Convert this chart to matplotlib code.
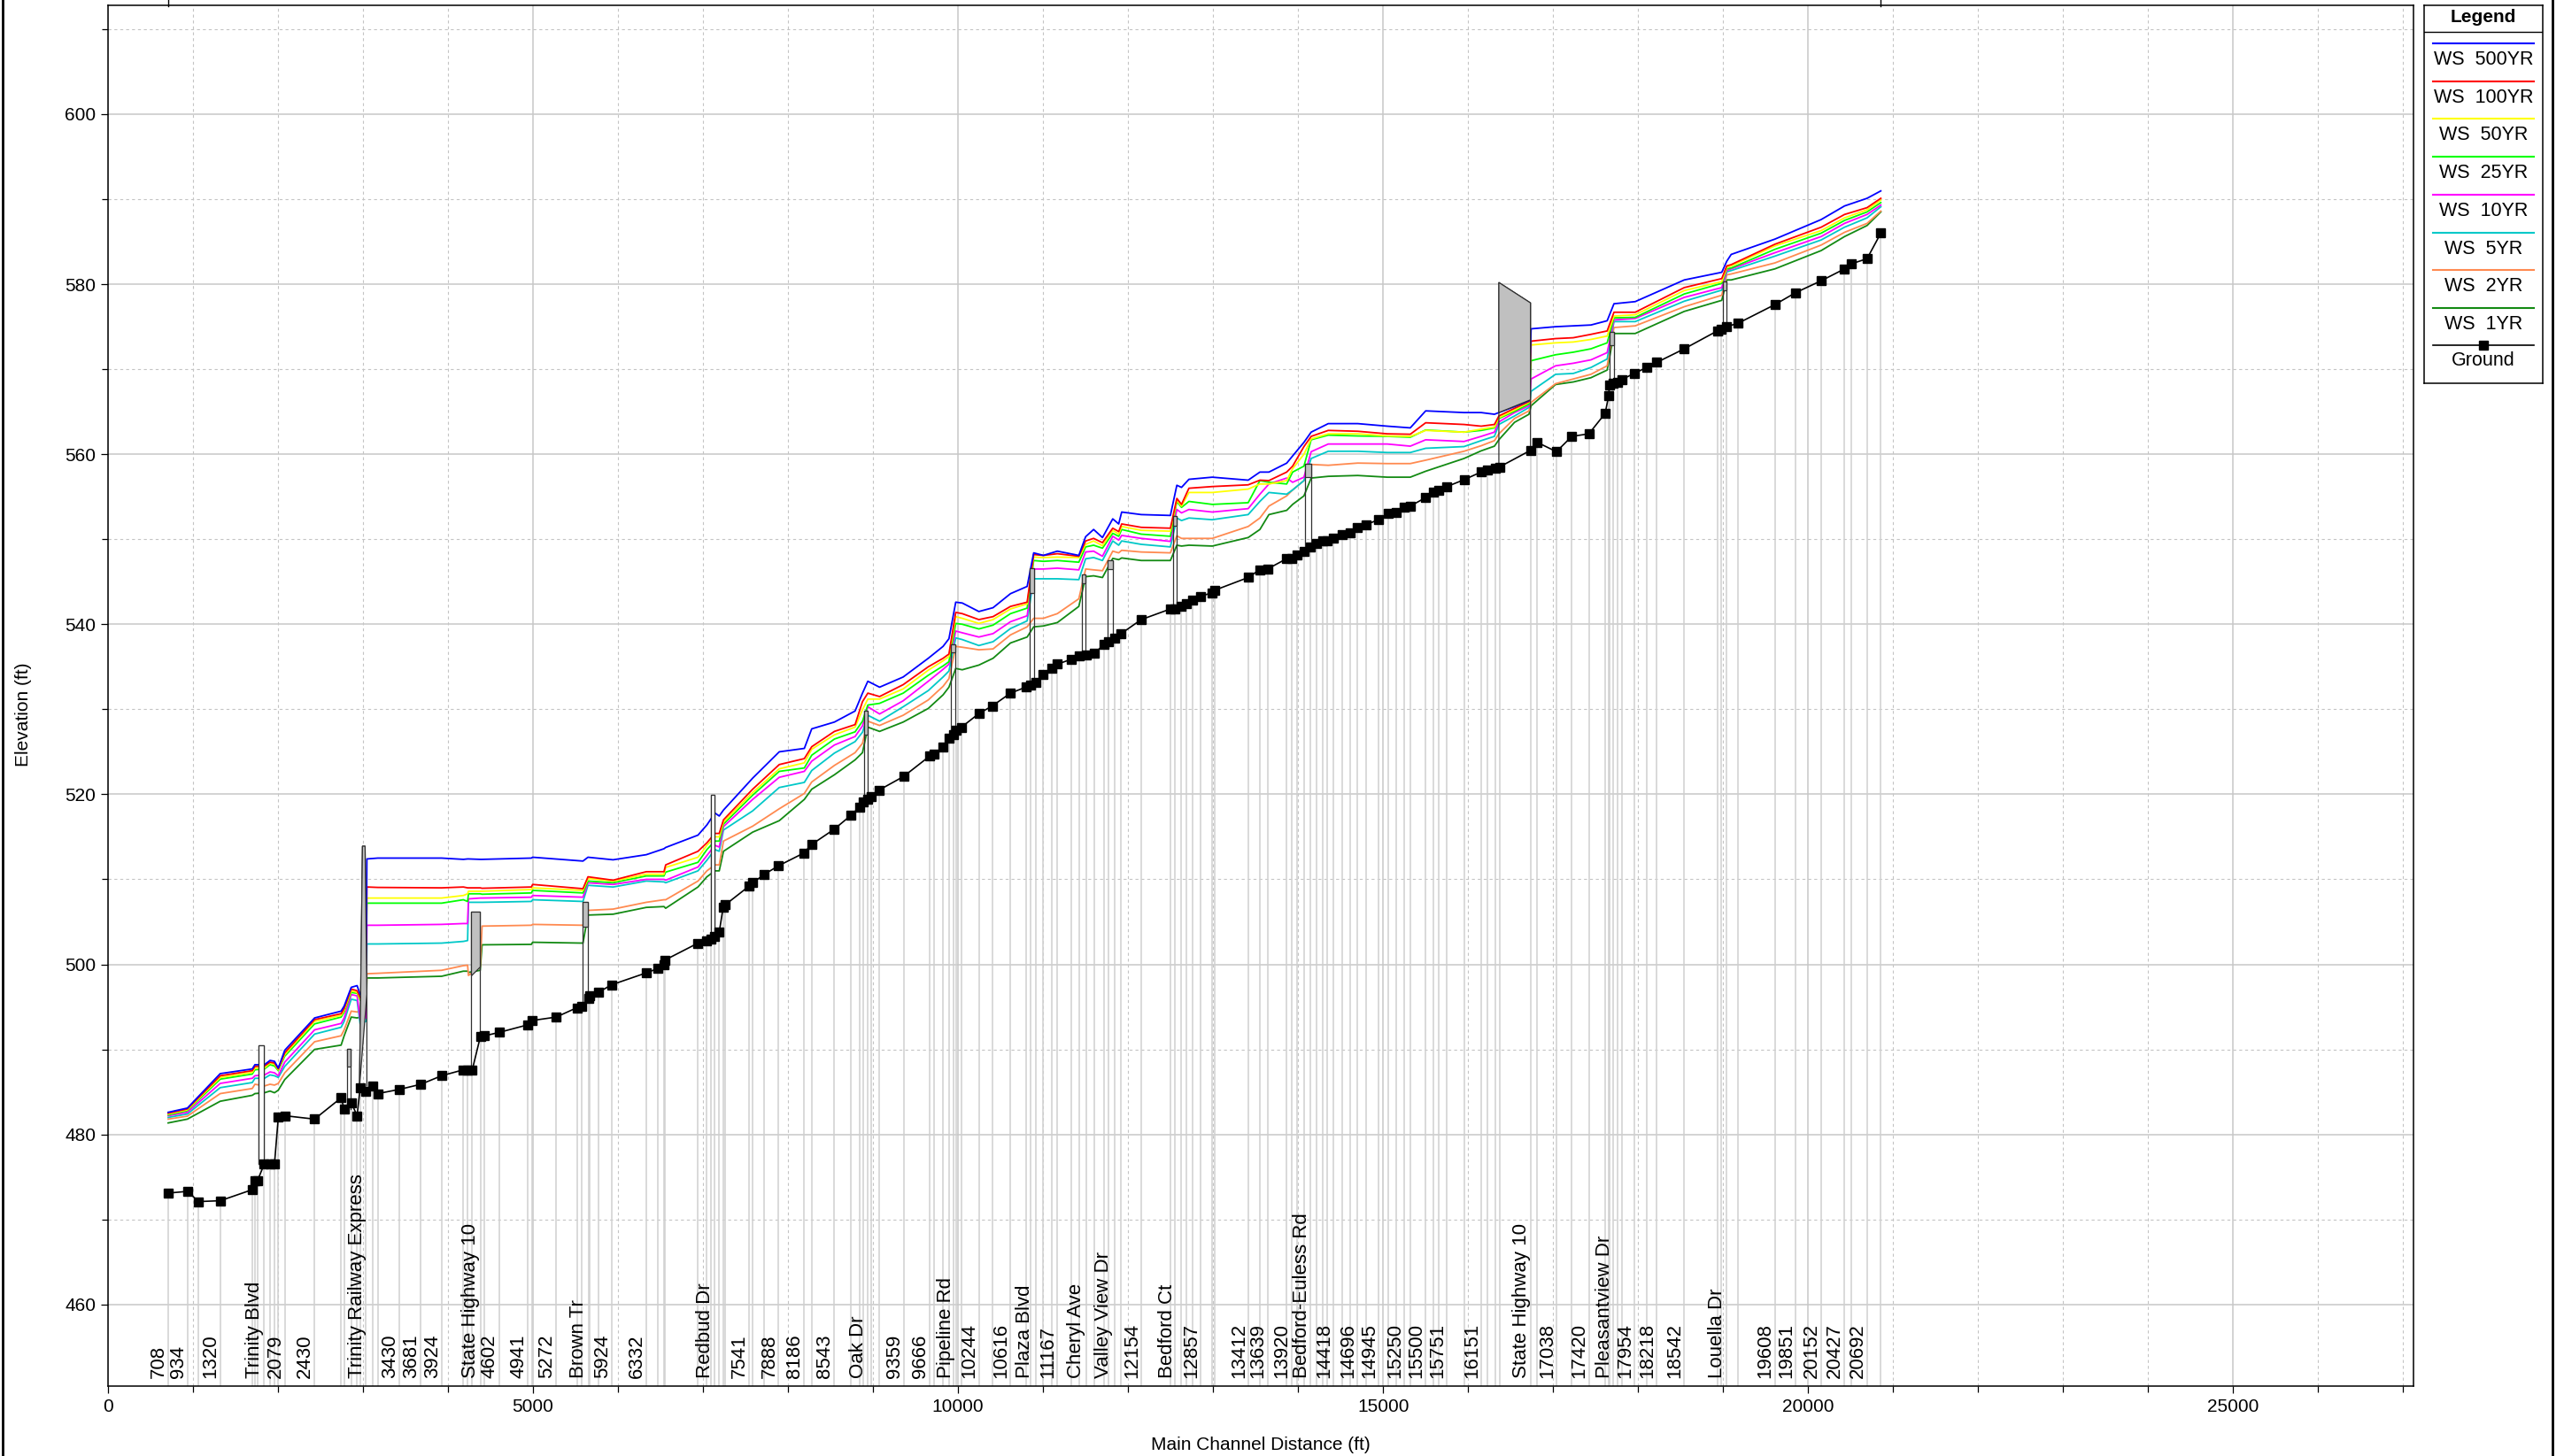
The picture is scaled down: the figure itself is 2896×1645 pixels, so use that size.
import matplotlib
matplotlib.use("Agg")
import matplotlib.pyplot as plt
from matplotlib.lines import Line2D
from matplotlib.ticker import MultipleLocator

plt.rcParams['font.family'] = ['Liberation Sans', 'DejaVu Sans']

# ground profile (main channel distance ft, invert elevation ft)
ground_x = [708, 934, 1066, 1320, 1697, 1728, 1760, 1837, 1906, 1958, 2003, 2079, 2430,
            2742, 2778, 2861, 2930, 2966, 3035, 3111, 3173, 3430, 3681, 3924, 4180,
            4230, 4285, 4380, 4430, 4602, 4941, 4990, 5272, 5515, 5575, 5650, 5665,
            5767, 5924, 6332, 6465, 6540, 6550, 6940, 7045, 7090, 7132, 7190, 7236,
            7260, 7541, 7585, 7722, 7888, 8186, 8277, 8543, 8736, 8840, 8886, 8938,
            8980, 9070, 9359, 9666, 9720, 9823, 9893, 9945, 9980, 10040, 10244, 10403,
            10616, 10795, 10848, 10917, 11003, 11107, 11167, 11334, 11421, 11507,
            11604, 11715, 11767, 11837, 11917, 12154, 12497, 12549, 12618, 12688,
            12758, 12857, 12983, 13017, 13412, 13545, 13639, 13862, 13920, 13990,
            14070, 14145, 14215, 14290, 14337, 14418, 14521, 14608, 14696, 14795,
            14945, 15055, 15153, 15250, 15319, 15500, 15587, 15656, 15751, 15951,
            16151, 16229, 16316, 16368, 16732, 16812, 17038, 17219, 17420, 17611,
            17653, 17660, 17705, 17757, 17809, 17954, 18097, 18218, 18542, 18930,
            18979, 19036, 19174, 19608, 19851, 20152, 20427, 20510, 20692, 20854]
ground_z = [473.1, 473.3, 472.1, 472.2, 473.5, 474.6, 474.6, 476.5, 476.5, 476.5, 482.0,
            482.2, 481.8, 484.3, 483.0, 483.75, 482.2, 485.5, 485.1, 485.7, 484.8,
            485.3, 485.9, 486.9, 487.6, 487.6, 487.6, 491.5, 491.6, 492.0, 492.9,
            493.4, 493.8, 494.9, 495.1, 496.0, 496.3, 496.7, 497.6, 499.0, 499.5,
            500.0, 500.5, 502.5, 502.8, 503.0, 503.3, 503.8, 506.7, 507.0, 509.2,
            509.6, 510.6, 511.6, 513.1, 514.1, 515.9, 517.5, 518.5, 519.1, 519.4,
            519.7, 520.5, 522.1, 524.5, 524.7, 525.55, 526.6, 527.0, 527.5, 527.9,
            529.5, 530.4, 531.9, 532.6, 532.9, 533.2, 534.1, 534.8, 535.3, 535.9,
            536.3, 536.4, 536.6, 537.6, 537.9, 538.4, 538.9, 540.55, 541.8, 541.85,
            542.1, 542.4, 542.8, 543.3, 543.7, 544.0, 545.5, 546.4, 546.5, 547.7,
            547.75, 548.2, 548.6, 549.1, 549.5, 549.8, 549.85, 550.1, 550.5, 550.8,
            551.4, 551.7, 552.3, 553.0, 553.2, 553.8, 553.9, 554.9, 555.5, 555.8,
            556.2, 557.0, 557.9, 558.1, 558.4, 558.5, 560.45, 561.4, 560.3, 562.1,
            562.4, 564.8, 566.9, 568.1, 568.3, 568.5, 568.8, 569.5, 570.2, 570.8,
            572.4, 574.5, 574.7, 575.0, 575.4, 577.6, 579.0, 580.4, 581.8, 582.4,
            583.0, 586.0]

# water surface profiles
ws_x = [708, 934, 1320, 1697, 1728, 1840, 1906, 1958, 2003, 2079,
        2430, 2742, 2778, 2861, 2930, 2966, 3035, 3045, 3173, 3924,
        4180, 4230, 4240, 4378, 4400, 4980, 4995, 5587, 5646, 5941,
        6332, 6540, 6560, 6940, 7045, 7139, 7190, 7240, 7583, 7896,
        8191, 8278, 8545, 8788, 8875, 8938, 9076, 9354, 9649, 9823,
        9892, 9972, 10049, 10244, 10411, 10616, 10812, 10889, 11003, 11167,
        11420, 11500, 11594, 11698, 11819, 11889, 11924, 12154, 12497, 12573,
        12628, 12715, 12990, 13412, 13550, 13656, 13865, 13935, 14068, 14153,
        14354, 14701, 15049, 15319, 15500, 15951, 16153, 16309, 16361, 16545,
        16715, 16740, 17028, 17236, 17444, 17635, 17715, 17965, 18542, 18983,
        19042, 19094, 19608, 20152, 20427, 20692, 20854]
ws_500 = [482.6, 483.1, 487.15, 487.7, 488.2, 488.2, 488.7, 488.6, 487.8, 489.9,
          493.7, 494.5, 495.1, 497.3, 497.5, 496.45, 496.5, 512.4, 512.5, 512.5,
          512.35, 512.4, 512.4, 512.35, 512.35, 512.5, 512.6, 512.15, 512.6, 512.3,
          512.9, 513.6, 513.75, 515.2, 516.4, 517.8, 517.45, 518.15, 521.9, 525.0,
          525.4, 527.7, 528.5, 529.8, 531.9, 533.3, 532.6, 533.8, 536.0, 537.4,
          538.3, 542.6, 542.5, 541.5, 541.95, 543.6, 544.45, 548.4, 548.1, 548.6,
          548.1, 550.3, 551.15, 550.2, 552.4, 551.8, 553.2, 552.9, 552.8, 556.35,
          556.1, 557.05, 557.3, 556.95, 557.9, 557.9, 558.95, 559.8, 561.4, 562.6,
          563.6, 563.6, 563.3, 563.1, 565.1, 564.9, 564.9, 564.7, 564.9, 565.6,
          566.3, 574.75, 575.0, 575.1, 575.2, 575.7, 577.7, 577.95, 580.5, 581.4,
          582.7, 583.5, 585.3, 587.6, 589.2, 590.1, 590.97]
ws_100 = [482.5, 483.0, 486.9, 487.5, 488.0, 488.05, 488.5, 488.4, 487.7, 489.6,
          493.5, 494.2, 494.8, 497.1, 496.9, 496.1, 497.0, 509.1, 509.05, 509.0,
          509.1, 509.0, 509.0, 509.0, 508.95, 509.1, 509.4, 508.9, 510.3, 509.9,
          510.9, 510.9, 511.7, 513.3, 514.3, 515.4, 515.4, 517.0, 520.6, 523.5,
          524.2, 525.6, 527.4, 528.2, 530.9, 531.9, 531.5, 532.9, 535.0, 536.0,
          536.5, 541.4, 541.25, 540.55, 540.9, 542.1, 542.6, 548.2, 548.1, 548.3,
          548.0, 549.8, 550.1, 549.6, 551.3, 550.9, 551.8, 551.4, 551.3, 554.8,
          554.1, 556.0, 556.2, 556.4, 556.95, 556.9, 557.9, 558.6, 560.9, 562.1,
          562.8, 562.7, 562.4, 562.35, 563.7, 563.5, 563.3, 563.5, 564.5, 565.4,
          566.2, 573.3, 573.6, 573.7, 574.1, 574.5, 576.7, 576.7, 579.6, 580.66,
          582.15, 582.3, 584.7, 586.7, 588.2, 589.0, 590.1]
ws_50 = [482.4, 482.9, 486.7, 487.3, 487.8, 487.8, 488.4, 488.25, 487.6, 489.4,
         493.3, 494.0, 494.6, 496.9, 496.7, 495.9, 496.8, 507.8, 507.8, 507.8,
         508.1, 508.3, 508.6, 508.6, 508.6, 508.8, 509.0, 508.7, 510.1, 509.8,
         510.6, 510.6, 511.4, 512.6, 514.0, 515.0, 515.0, 516.75, 520.2, 523.0,
         523.7, 525.3, 527.0, 527.9, 529.95, 531.2, 531.2, 532.4, 534.6, 535.7,
         536.2, 540.9, 540.7, 540.1, 540.55, 541.8, 542.4, 547.9, 547.85, 547.9,
         547.85, 549.4, 549.8, 549.24, 551.05, 550.6, 551.5, 551.05, 550.95, 554.6,
         553.9, 555.5, 555.5, 555.9, 556.5, 556.5, 556.9, 558.3, 560.0, 561.8,
         562.4, 562.4, 562.15, 562.1, 562.8, 562.6, 562.95, 563.2, 564.3, 565.2,
         566.1, 572.85, 573.1, 573.2, 573.5, 573.9, 576.25, 576.4, 579.25, 580.3,
         582.0, 582.15, 584.5, 586.3, 587.8, 588.75, 589.9]
ws_25 = [482.3, 482.8, 486.5, 487.1, 487.6, 487.7, 488.2, 488.05, 487.5, 489.2,
         493.0, 493.8, 494.4, 496.7, 496.6, 495.8, 496.6, 507.2, 507.2, 507.2,
         507.6, 507.4, 508.3, 508.3, 508.25, 508.4, 508.7, 508.4, 509.8, 509.6,
         510.4, 510.4, 510.85, 512.0, 513.5, 514.5, 514.5, 516.5, 519.9, 522.7,
         523.1, 524.6, 526.5, 527.35, 528.6, 530.5, 530.7, 531.9, 534.0, 535.1,
         535.6, 540.1, 540.0, 539.45, 539.9, 541.25, 541.9, 547.5, 547.4, 547.5,
         547.3, 549.1, 549.3, 548.95, 550.7, 550.35, 551.15, 550.6, 550.35, 554.45,
         553.75, 554.45, 554.1, 554.3, 556.9, 556.7, 556.5, 557.9, 558.6, 561.7,
         562.25, 562.15, 562.1, 562.0, 562.85, 562.6, 562.8, 563.1, 564.2, 565.05,
         565.9, 571.0, 571.7, 572.0, 572.4, 573.1, 576.04, 576.1, 578.85, 580.1,
         581.8, 581.9, 584.1, 586.0, 587.5, 588.5, 589.6]
ws_10 = [482.2, 482.6, 486.0, 486.6, 486.9, 487.0, 487.35, 487.25, 486.9, 488.5,
         492.3, 493.05, 493.7, 496.45, 496.3, 493.5, 493.7, 504.6, 504.6, 504.7,
         504.8, 504.8, 507.7, 507.8, 507.8, 507.9, 508.1, 507.9, 509.6, 509.4,
         510.0, 510.0, 509.9, 511.45, 512.8, 514.0, 513.8, 516.2, 519.4, 522.0,
         522.7, 523.9, 525.8, 526.8, 528.05, 530.3, 529.45, 531.0, 533.3, 534.7,
         535.3, 539.2, 539.0, 538.5, 538.9, 540.3, 541.0, 546.5, 546.5, 546.6,
         546.4, 548.5, 548.6, 548.0, 550.35, 549.9, 550.45, 550.1, 549.75, 553.5,
         553.1, 553.5, 553.2, 553.6, 555.3, 556.5, 557.2, 556.7, 557.3, 560.3,
         561.2, 561.2, 561.2, 560.95, 561.7, 561.5, 562.1, 562.6, 563.8, 564.9,
         565.7, 568.85, 570.4, 570.7, 571.1, 571.95, 575.8, 575.97, 578.45, 579.6,
         581.6, 581.8, 583.7, 585.6, 587.15, 588.2, 589.3]
ws_5 = [482.0, 482.4, 485.5, 486.1, 486.6, 486.6, 487.0, 486.9, 486.7, 488.0,
        491.8, 492.6, 493.3, 495.9, 495.75, 493.0, 493.3, 502.4, 502.4, 502.5,
        502.7, 502.8, 507.3, 507.3, 507.3, 507.4, 507.6, 507.4, 509.3, 509.1,
        509.8, 509.7, 509.6, 511.0, 512.25, 513.5, 513.3, 515.8, 518.05, 520.8,
        521.4, 522.8, 524.85, 526.2, 527.3, 529.3, 528.6, 530.3, 532.2, 533.8,
        534.5, 538.4, 538.2, 537.5, 537.95, 539.5, 540.4, 545.35, 545.35, 545.35,
        545.25, 547.7, 547.85, 547.5, 549.8, 549.3, 549.8, 549.4, 549.1, 552.5,
        552.2, 552.5, 552.3, 552.9, 554.45, 555.5, 555.3, 555.8, 556.9, 559.5,
        560.35, 560.35, 560.2, 560.2, 560.7, 560.9, 561.6, 562.1, 563.5, 564.5,
        565.5, 567.4, 569.4, 569.5, 570.2, 571.2, 575.6, 575.6, 578.0, 579.3,
        581.45, 581.6, 583.3, 585.2, 586.7, 587.8, 589.1]
ws_2 = [481.8, 482.15, 484.8, 485.4, 485.9, 485.7, 485.9, 485.8, 486.0, 487.25,
        490.9, 491.6, 492.3, 494.5, 494.4, 494.5, 494.0, 498.9, 498.95, 499.3,
        499.85, 499.9, 498.7, 499.7, 504.5, 504.6, 504.7, 504.6, 506.35, 506.5,
        507.3, 507.6, 507.6, 509.8, 511.0, 511.7, 511.7, 514.5, 516.25, 518.3,
        520.1, 521.45, 523.4, 524.9, 526.0, 528.6, 528.1, 529.3, 531.1, 532.7,
        533.6, 537.4, 537.3, 537.0, 537.1, 538.75, 539.7, 540.7, 540.7, 541.25,
        543.0, 546.5, 546.4, 546.3, 548.6, 548.4, 548.7, 548.5, 548.4, 550.4,
        550.1, 550.1, 550.1, 551.5, 552.5, 553.9, 555.1, 555.8, 556.9, 558.8,
        558.7, 558.96, 558.9, 558.9, 559.3, 560.35, 561.0, 561.6, 562.4, 564.2,
        565.1, 566.1, 568.3, 568.85, 569.4, 570.4, 574.9, 575.1, 577.35, 578.7,
        581.1, 581.2, 582.5, 584.6, 586.1, 587.15, 588.6]
ws_1 = [481.35, 481.8, 483.9, 484.6, 484.8, 484.9, 485.1, 484.9, 485.2, 486.45,
        490.0, 490.5, 491.6, 493.8, 493.7, 493.8, 493.7, 498.4, 498.4, 498.6,
        499.2, 499.2, 499.05, 499.3, 502.3, 502.35, 502.6, 502.5, 505.8, 505.9,
        506.7, 506.8, 506.6, 509.1, 510.3, 511.0, 511.0, 513.3, 515.55, 516.9,
        519.4, 520.6, 522.3, 524.05, 524.9, 527.9, 527.4, 528.5, 530.1, 531.7,
        532.6, 534.8, 534.65, 535.2, 536.0, 537.8, 538.5, 539.7, 539.8, 540.2,
        542.1, 545.6, 545.7, 545.5, 547.75, 547.6, 547.8, 547.5, 547.5, 549.3,
        549.2, 549.3, 549.2, 550.2, 551.15, 552.9, 553.4, 554.1, 555.1, 557.2,
        557.4, 557.5, 557.3, 557.3, 558.0, 559.5, 560.4, 560.95, 561.7, 563.75,
        564.7, 565.7, 568.2, 568.5, 569.0, 569.9, 574.2, 574.2, 576.8, 578.1,
        580.5, 580.5, 581.8, 583.95, 585.6, 586.9, 588.5]

profile_names = ['WS  500YR', 'WS  100YR', 'WS  50YR', 'WS  25YR',
                 'WS  10YR', 'WS  5YR', 'WS  2YR', 'WS  1YR']
profile_colors = ['#0000ff', '#ff0000', '#ffff00', '#00ff00',
                  '#ff00ff', '#00c8c8', '#ff8a50', '#138a13']

# bridges: faces, deck top, deck bottom (grey part), ground at faces
br_left = [1774, 2816, 2958, 4268, 5587, 7097, 8896, 9920, 10840, 11455, 11760,
           12531, 14076, 16361, 17660, 19000]
br_right = [1837, 2851, 3045, 4378, 5646, 7139, 8938, 9972, 10889, 11500, 11819,
            12573, 14153, 16733, 17715, 19042]
br_top_x0 = [1774, 2816, 2993, 4268, 5587, 7097, 8896, 9920, 10840, 11455, 11760,
             12531, 14076, 16361, 17660, 19000]
br_top_x1 = [1837, 2851, 3024, 4378, 5646, 7139, 8938, 9972, 10889, 11500, 11819,
             12573, 14153, 16733, 17715, 19042]
br_top_l = [490.45, 490.1, 513.9, 506.2, 507.3, 519.9, 529.85, 537.6, 546.6, 545.9,
            547.5, 552.7, 558.9, 580.2, 574.4, 580.3]
br_top_r = [490.45, 490.1, 513.9, 506.2, 507.3, 519.9, 529.85, 537.6, 546.6, 545.9,
            547.5, 552.7, 558.9, 577.8, 574.4, 580.3]
br_low_l = [476.5, 488.0, 485.5, 498.7, 504.4, 503.1, 527.0, 536.7, 543.7, 544.8,
            546.5, 551.6, 557.3, 564.9, 572.8, 579.3]
br_low_r = [476.5, 488.0, 496.5, 499.75, 504.4, 503.3, 527.0, 536.7, 543.7, 544.8,
            546.5, 551.6, 557.3, 566.4, 572.8, 579.3]
br_base_l = [476.5, 483.0, 485.5, 487.6, 495.1, 503.1, 519.2, 527.0, 532.9, 536.3,
             537.9, 541.8, 548.6, 558.5, 568.1, 574.6]
br_base_r = [476.5, 483.0, 485.7, 491.5, 496.0, 503.3, 519.4, 527.4, 533.2, 536.4,
             538.3, 541.9, 549.1, 560.45, 568.3, 574.9]
br_fill = ['white', '#c0c0c0', '#c0c0c0', '#c0c0c0', '#c0c0c0', 'white', '#c0c0c0',
           '#c0c0c0', '#c0c0c0', '#c0c0c0', '#c0c0c0', '#c0c0c0', '#c0c0c0',
           '#c0c0c0', '#c0c0c0', '#c0c0c0']

# river station / structure labels along the bottom
label_text = ['708', '934', '1320', 'Trinity Blvd', '2079', '2430',
              'Trinity Railway Express', '3430', '3681', '3924', 'State Highway 10',
              '4602', '4941', '5272', 'Brown Tr', '5924', '6332', 'Redbud Dr', '7541',
              '7888', '8186', '8543', 'Oak Dr', '9359', '9666', 'Pipeline Rd', '10244',
              '10616', 'Plaza Blvd', '11167', 'Cheryl Ave', 'Valley View Dr', '12154',
              'Bedford Ct', '12857', '13412', '13639', '13920', 'Bedford-Euless Rd',
              '14418', '14696', '14945', '15250', '15500', '15751', '16151',
              'State Highway 10', '17038', '17420', 'Pleasantview Dr', '17954', '18218',
              '18542', 'Louella Dr', '19608', '19851', '20152', '20427', '20692']
label_x = [708, 934, 1320, 1837, 2079, 2430, 3045, 3430, 3681, 3924, 4378, 4602, 4941,
           5272, 5646, 5924, 6332, 7139, 7541, 7888, 8186, 8543, 8938, 9359, 9666, 9972,
           10244, 10616, 10889, 11167, 11500, 11819, 12154, 12573, 12857, 13412, 13639,
           13920, 14153, 14418, 14696, 14945, 15250, 15500, 15751, 16151, 16733, 17038,
           17420, 17715, 17954, 18218, 18542, 19042, 19608, 19851, 20152, 20427, 20692]

W, H = 2896, 1645
fig = plt.figure(figsize=(W / 100, H / 100), dpi=100)
ax = fig.add_axes([122 / W, 1 - 1566 / H, 2604 / W, 1560 / H])
ymin, ymax = 450.4, 612.8
ax.set_xlim(0, 27120)
ax.set_ylim(ymin, ymax)

ax.xaxis.set_major_locator(MultipleLocator(5000))
ax.xaxis.set_minor_locator(MultipleLocator(1000))
ax.yaxis.set_major_locator(MultipleLocator(20))
ax.yaxis.set_minor_locator(MultipleLocator(10))
ax.tick_params(which='major', length=6, width=0.9, labelsize=15, pad=4)
ax.tick_params(which='minor', length=5, width=0.9)
ax.grid(which='major', color='#c8c8c8', lw=1.1, ls='-', zorder=0)
ax.grid(which='minor', color='#c4c4c4', lw=0.8, ls=(0, (3, 3)), zorder=0)
ax.set_axisbelow(True)
for s in ax.spines.values():
    s.set_linewidth(1.1)
    s.set_color('black')

# station lines down to the axis
ax.vlines(ground_x, ymin, ground_z, color='#d0d0d0', lw=1.1, zorder=1)

ws_all = [ws_500, ws_100, ws_50, ws_25, ws_10, ws_5, ws_2, ws_1]
for vals, c in zip(ws_all[::-1], profile_colors[::-1]):
    ax.plot(ws_x, vals, color=c, lw=1.3, zorder=3)

for i in range(len(br_left)):
    ox = [br_left[i], br_left[i], br_top_x0[i], br_top_x1[i], br_right[i], br_right[i]]
    oy = [br_base_l[i], br_low_l[i], br_top_l[i], br_top_r[i], br_low_r[i], br_base_r[i]]
    ax.plot(ox, oy, color='#303030', lw=0.9, zorder=4)
    dx = [br_left[i], br_top_x0[i], br_top_x1[i], br_right[i]]
    dy = [br_low_l[i], br_top_l[i], br_top_r[i], br_low_r[i]]
    ax.fill(dx, dy, facecolor=br_fill[i], edgecolor='#303030', lw=0.9, zorder=4)

ax.plot(ground_x, ground_z, color='black', lw=1.2, marker='s', ms=7,
        mfc='black', mec='black', zorder=5)

for t, x in zip(label_text, label_x):
    ax.annotate(t, (x, ymin), xytext=(0, 9), textcoords='offset pixels',
                rotation=90, ha='right', va='bottom', fontsize=16, zorder=6)

fig.text(26 / W, 1 - 807 / H, 'Elevation (ft)', rotation=90, ha='center',
         va='center', fontsize=15)
fig.text(1424 / W, 1 - 1633 / H, 'Main Channel Distance (ft)', ha='center',
         va='center', fontsize=15)

# legend box
lax = fig.add_axes([2738 / W, 1 - 433 / H, 134 / W, 427 / H])
lax.set_xlim(2738, 2872)
lax.set_ylim(433, 6)
lax.set_xticks([])
lax.set_yticks([])
for s in lax.spines.values():
    s.set_linewidth(1.1)
lax.text(2805, 20, 'Legend', ha='center', va='center', fontsize=15, fontweight='bold')
lax.plot([2738, 2872], [36, 36], color='black', lw=1)
line_y = [49, 92, 134, 177, 220, 263, 305, 348]
for ly, name, c in zip(line_y, profile_names, profile_colors):
    lax.plot([2748, 2862], [ly, ly], color=c, lw=1.5)
    lax.text(2805, ly + 19, name, ha='center', va='center', fontsize=15.5)
lax.plot([2748, 2862], [390, 390], color='black', lw=1.2)
lax.plot([2805], [390], marker='s', ms=7, color='black')
lax.text(2805, 408, 'Ground', ha='center', va='center', fontsize=15.5)

# outer frame remnants
for x0 in (3, 2883):
    fig.add_artist(Line2D([x0 / W, x0 / W], [0, 1], transform=fig.transFigure,
                          color='black', lw=2))
for x0 in (190, 2124):
    fig.add_artist(Line2D([x0 / W, x0 / W], [1 - 7 / H, 1], transform=fig.transFigure,
                          color='black', lw=1))

fig.savefig('out.png', dpi=100)
